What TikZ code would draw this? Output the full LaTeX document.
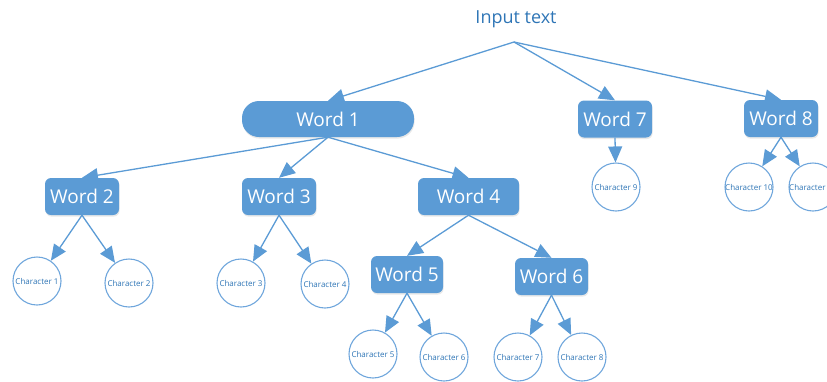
\documentclass[tikz,border=0pt]{standalone}
\usepackage{fontspec}
\setmainfont{Open Sans}
\usetikzlibrary{arrows.meta,shadows}
\definecolor{boxblue}{HTML}{5B9BD5}
\definecolor{textblue}{HTML}{2E75B6}
\definecolor{ringblue}{HTML}{6FA6DC}
\tikzset{
  wordbox/.style={fill=boxblue, draw=none, text=white, rounded corners=6pt,
    minimum width=74pt, minimum height=37pt, inner sep=2pt,
    font=\fontsize{19}{21}\selectfont,
    drop shadow={opacity=0.18, shadow xshift=0.6pt, shadow yshift=-1.6pt}},
  charnode/.style={circle, draw=ringblue, line width=1.1pt, fill=white,
    minimum size=48pt, inner sep=0pt, text=textblue,
    font=\fontsize{8}{9}\selectfont},
  link/.style={draw=boxblue, line width=1.3pt,
    -{Triangle[length=16pt,width=14pt]}}
}
\begin{document}
\begin{tikzpicture}[x=1pt,y=-1pt]
\useasboundingbox (0,0) rectangle (827,381);
\clip (0,0) rectangle (827,381);

% root label
\node[text=textblue, font=\fontsize{18}{20}\selectfont] (root) at (516,19) {Input text};
\coordinate (rootpt) at (514,42);

% word boxes
\node[wordbox, minimum width=172pt, minimum height=36pt, rounded corners=17pt] (w1) at (328,119) {Word 1};
\node[wordbox] (w7) at (615,119) {Word 7};
\node[wordbox] (w8) at (781,118.5) {Word 8};
\node[wordbox] (w2) at (82,196.5) {Word 2};
\node[wordbox] (w3) at (279,196.5) {Word 3};
\node[wordbox, minimum width=101pt] (w4) at (468.5,196.5) {Word 4};
\node[wordbox, minimum width=72pt] (w5) at (407,274.5) {Word 5};
\node[wordbox, minimum width=73pt] (w6) at (551.5,276.5) {Word 6};

% character circles
\node[charnode] (c1) at (37,281) {Character 1};
\node[charnode] (c2) at (129,283) {Character 2};
\node[charnode] (c3) at (241,283) {Character 3};
\node[charnode] (c4) at (325,284) {Character 4};
\node[charnode] (c5) at (373,354) {Character 5};
\node[charnode] (c6) at (444,357) {Character 6};
\node[charnode] (c7) at (518,357) {Character 7};
\node[charnode] (c8) at (582,357) {Character 8};
\node[charnode] (c9) at (616,187) {Character 9};
\node[charnode] (c10) at (749,187) {Character 10};
\node[charnode] (c11) at (813,187) {Character 11};

% connectors
\path[link] (rootpt) -- (w1.north);
\path[link] (rootpt) -- (w7.north);
\path[link] (rootpt) -- (w8.north);

\path[link] (w1.south) -- (w2.north);
\path[link] (w1.south) -- (w3.north);
\path[link] (w1.south) -- (w4.north);

\path[link] (w4.south) -- (w5.north);
\path[link] (w4.south) -- (w6.north);

\path[link] (w2.south) -- (c1);
\path[link] (w2.south) -- (c2);
\path[link] (w3.south) -- (c3);
\path[link] (w3.south) -- (c4);
\path[link] (w5.south) -- (c5);
\path[link] (w5.south) -- (c6);
\path[link] (w6.south) -- (c7);
\path[link] (w6.south) -- (c8);
\path[link] (w7.south) -- (c9);
\path[link] (w8.south) -- (c10);
\path[link] (w8.south) -- (c11);
\end{tikzpicture}
\end{document}
